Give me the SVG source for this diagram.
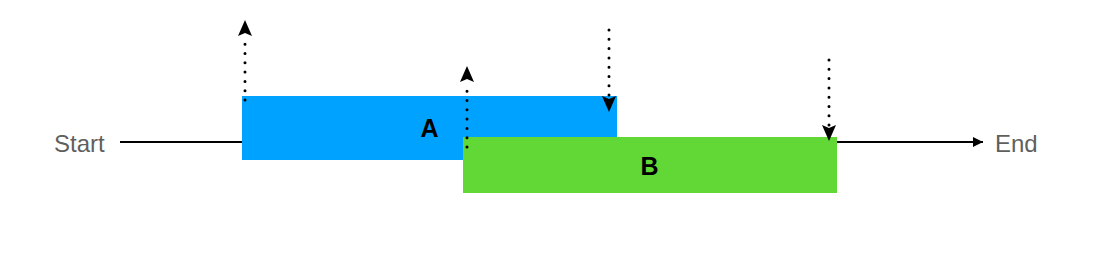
<svg xmlns="http://www.w3.org/2000/svg" width="1115" height="255" viewBox="0 0 1115 255">
<style>
.lbl{font-family:"Liberation Sans",Arial,sans-serif;font-size:24px;fill:#5f5f5f}
.box{font-family:"Liberation Sans",Arial,sans-serif;font-size:25px;font-weight:bold;fill:#000}
.dot{stroke:#000;stroke-width:3;stroke-linecap:round;stroke-dasharray:0 9.3;fill:none}
.line{stroke:#000;stroke-width:2;fill:none}
</style>
<defs>
<marker id="ah" viewBox="0 0 10 10" refX="10" refY="5" markerWidth="11" markerHeight="10" markerUnits="userSpaceOnUse" orient="auto">
<path d="M0,0 L10,5 L0,10 z" fill="#000"/>
</marker>
<path id="hd" d="M0,0 L7,16 L0,13 L-7,16 z" fill="#000"/>
</defs>
<rect width="1115" height="255" fill="#fff"/>
<g id="nodeA">
<rect x="242" y="96" width="375" height="64" fill="#00a2ff"/>
<text class="box" x="429.5" y="137" text-anchor="middle">A</text>
</g>
<g id="nodeB">
<rect x="463" y="137" width="374" height="56" fill="#61d836"/>
<text class="box" x="649.5" y="175" text-anchor="middle">B</text>
</g>
<g id="start"><text class="lbl" x="54" y="152">Start</text></g>
<g id="end"><text class="lbl" x="995" y="152">End</text></g>
<g id="connectors">
<line class="line" x1="120" y1="142" x2="242" y2="142"/>
<line class="line" x1="837" y1="142" x2="983" y2="142" marker-end="url(#ah)"/>
<line class="dot" x1="245" y1="100" x2="245" y2="44"/>
<use href="#hd" transform="translate(245,20)"/>
<line class="dot" x1="467" y1="147" x2="467" y2="91"/>
<use href="#hd" transform="translate(467,66)"/>
<line class="dot" x1="609" y1="30" x2="609" y2="96"/>
<use href="#hd" transform="translate(609,112) rotate(180)"/>
<line class="dot" x1="829" y1="60" x2="829" y2="126"/>
<use href="#hd" transform="translate(829,141) rotate(180)"/>
</g>
</svg>
